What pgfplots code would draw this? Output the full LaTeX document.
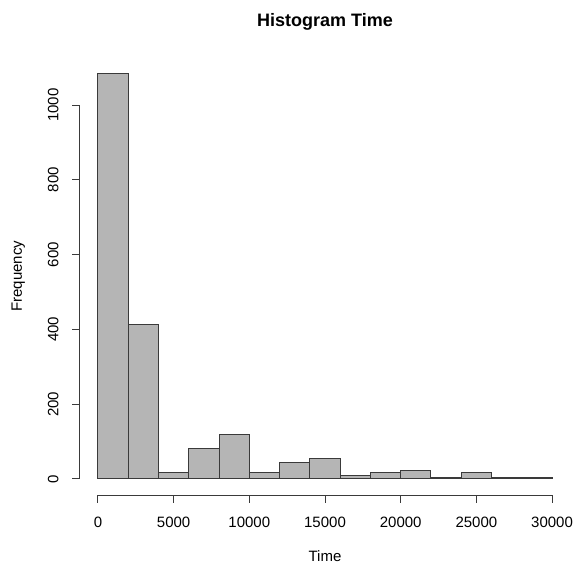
\documentclass[border=0pt]{standalone}
\usepackage{pgfplots}
\pgfplotsset{compat=1.18}
\usepackage{fontspec}
\setmainfont{Liberation Sans}
\definecolor{barfill}{HTML}{B5B5B5}
\definecolor{inkline}{HTML}{3A3A3A}

\begin{document}
\begin{tikzpicture}
\useasboundingbox (0,0) rectangle (577bp,565bp);
\begin{axis}[
  at={(79.8bp,69.8bp)}, anchor=south west,
  width=490.4bp, height=438.2bp, scale only axis,
  xmin=-1200, xmax=31200, ymin=-43.4, ymax=1128.4,
  clip=false,
  axis line style={draw=none},
  major tick length=0pt, tick style={draw=none},
  xtick={0,5000,10000,15000,20000,25000,30000},
  ytick={0,200,400,600,800,1000},
  scaled ticks=false,
  /pgf/number format/assume math mode=true,
  /pgf/number format/1000 sep={},
  tick label style={font=\fontsize{15bp}{18bp}\selectfont, inner sep=0pt},
  xticklabel style={anchor=north, yshift=-21.6bp},
  yticklabel style={rotate=90, anchor=south, yshift=21bp},
  title={Histogram Time},
  every axis title/.style={at={(axis description cs:0.5,1)}, anchor=center,
    yshift=35bp, font=\bfseries\fontsize{18bp}{21bp}\selectfont},
  xlabel={Time},
  every axis x label/.style={at={(axis description cs:0.5,0)}, anchor=center,
    yshift=-61bp, font=\fontsize{15bp}{18bp}\selectfont},
  ylabel={Frequency},
  every axis y label/.style={at={(axis description cs:0,0.5)}, rotate=90,
    anchor=center, yshift=61.5bp, font=\fontsize{15bp}{18bp}\selectfont},
]
% histogram counts, bins of width 2000
\addplot[ybar interval, fill=barfill, draw=inkline, line width=1bp]
  coordinates {(0,1085) (2000,412) (4000,18) (6000,81) (8000,119)
    (10000,16) (12000,43) (14000,56) (16000,10) (18000,18) (20000,22)
    (22000,5) (24000,18) (26000,3) (28000,4) (30000,4)};

% R-style axes spanning the first to the last tick
\draw[inkline, line width=1bp]
  (axis cs:0,-43.4) -- (axis cs:30000,-43.4)
  (axis cs:0,-43.4) -- ++(0pt,-8bp)
  (axis cs:5000,-43.4) -- ++(0pt,-8bp)
  (axis cs:10000,-43.4) -- ++(0pt,-8bp)
  (axis cs:15000,-43.4) -- ++(0pt,-8bp)
  (axis cs:20000,-43.4) -- ++(0pt,-8bp)
  (axis cs:25000,-43.4) -- ++(0pt,-8bp)
  (axis cs:30000,-43.4) -- ++(0pt,-8bp);
\draw[inkline, line width=1bp]
  (axis cs:-1200,0) -- (axis cs:-1200,1000)
  (axis cs:-1200,0) -- ++(-8bp,0pt)
  (axis cs:-1200,200) -- ++(-8bp,0pt)
  (axis cs:-1200,400) -- ++(-8bp,0pt)
  (axis cs:-1200,600) -- ++(-8bp,0pt)
  (axis cs:-1200,800) -- ++(-8bp,0pt)
  (axis cs:-1200,1000) -- ++(-8bp,0pt);
\end{axis}
\end{tikzpicture}
\end{document}
